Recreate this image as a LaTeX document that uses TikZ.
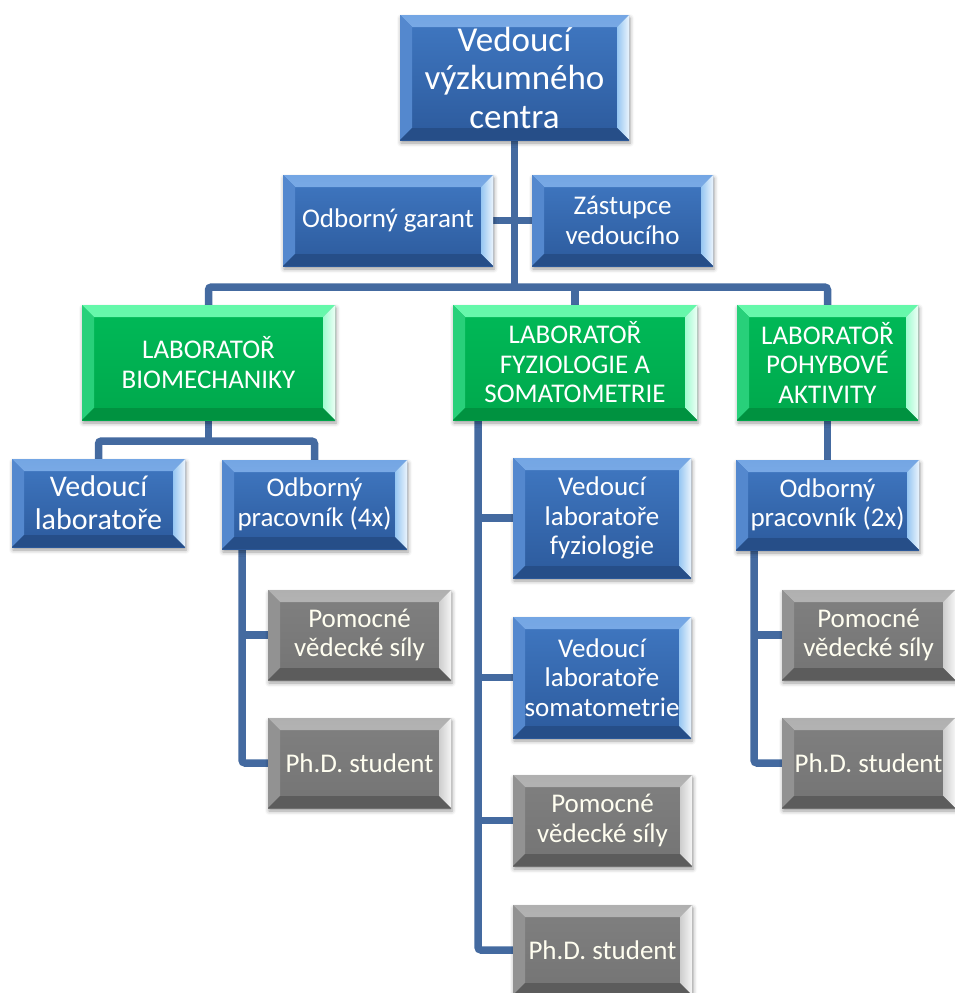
\documentclass[tikz,border=0pt]{standalone}
\usepackage{fontspec}
\setmainfont{Carlito}
\usetikzlibrary{shadows.blur}

\definecolor{linkc}{RGB}{68,106,160}
% blue boxes
\definecolor{bT}{RGB}{64,120,194}
\definecolor{bB}{RGB}{44,90,156}
\definecolor{bbT}{RGB}{116,166,228}
\definecolor{bbL}{RGB}{84,136,206}
\definecolor{bbR}{RGB}{150,198,242}
\definecolor{bbB}{RGB}{38,78,136}
% green boxes
\definecolor{gT}{RGB}{0,186,88}
\definecolor{gB}{RGB}{0,168,76}
\definecolor{gbT}{RGB}{100,248,170}
\definecolor{gbL}{RGB}{40,208,122}
\definecolor{gbR}{RGB}{160,252,208}
\definecolor{gbB}{RGB}{0,146,64}
% grey boxes
\definecolor{sT}{RGB}{128,128,128}
\definecolor{sB}{RGB}{116,116,116}
\definecolor{sbT}{RGB}{176,176,176}
\definecolor{sbL}{RGB}{146,146,146}
\definecolor{sbR}{RGB}{205,205,205}
\definecolor{sbB}{RGB}{92,92,92}

\pgfdeclarelayer{bg}
\pgfsetlayers{bg,main}

\newlength\bvw
\setlength\bvw{12pt}
% bevelled frame: top, left, right, bottom strips
\newcommand\bevels[4]{%
  \shade[top color=#1, bottom color=#1!75!white]
    (path picture bounding box.north west) -- (path picture bounding box.north east)
    -- ([shift={(-\bvw,-\bvw)}]path picture bounding box.north east)
    -- ([shift={(\bvw,-\bvw)}]path picture bounding box.north west) -- cycle;
  \fill[#2] (path picture bounding box.north west) -- ([shift={(\bvw,-\bvw)}]path picture bounding box.north west)
    -- ([shift={(\bvw,\bvw)}]path picture bounding box.south west)
    -- (path picture bounding box.south west) -- cycle;
  \shade[left color=#3, right color=white!80!#3]
    (path picture bounding box.north east) -- ([shift={(-\bvw,-\bvw)}]path picture bounding box.north east)
    -- ([shift={(-\bvw,\bvw)}]path picture bounding box.south east)
    -- (path picture bounding box.south east) -- cycle;
  \fill[#4] (path picture bounding box.south west) -- ([shift={(\bvw,\bvw)}]path picture bounding box.south west)
    -- ([shift={(-\bvw,\bvw)}]path picture bounding box.south east)
    -- (path picture bounding box.south east) -- cycle;
}

\tikzset{
  box/.style={rectangle, inner sep=0pt, align=center, text=white,
    font=\fontsize{27}{29.5}\selectfont,
    blur shadow={shadow xshift=1pt, shadow yshift=-3pt, shadow blur radius=4pt, shadow opacity=40}},
  bluebox/.style={box, top color=bT, bottom color=bB, path picture={\bevels{bbT}{bbL}{bbR}{bbB}}},
  greenbox/.style={box, top color=gT, bottom color=gB, path picture={\bevels{gbT}{gbL}{gbR}{gbB}}},
  greybox/.style={box, top color=sT, bottom color=sB, text=white!94!yellow, path picture={\bevels{sbT}{sbL}{sbR}{sbB}}},
  conn/.style={draw=linkc, line width=7.5pt, rounded corners=3pt},
}

\begin{document}
\begin{tikzpicture}[x=1pt, y=-1pt]
\useasboundingbox (0,0) rectangle (954,993);

% head
\node[bluebox, minimum width=229, minimum height=125, font=\fontsize{35}{38.5}\selectfont]
  (head) at (514.5,77.5) {Vedoucí\\výzkumného\\centra};
\node[bluebox, minimum width=210, minimum height=91] (garant) at (388,220.5) {Odborný garant};
\node[bluebox, minimum width=181, minimum height=91] (zast) at (622.5,220.5) {Zástupce\\vedoucího};

% laboratories
\node[greenbox, minimum width=253, minimum height=115] (labB) at (208.5,362.5) {LABORATOŘ\\BIOMECHANIKY};
\node[greenbox, minimum width=244, minimum height=115] (labF) at (575,362.5) {LABORATOŘ\\FYZIOLOGIE A\\SOMATOMETRIE};
\node[greenbox, minimum width=181, minimum height=115] (labP) at (827.5,362.5) {LABORATOŘ\\POHYBOVÉ\\AKTIVITY};

% biomechanics
\node[bluebox, minimum width=173, minimum height=88, font=\fontsize{30}{33}\selectfont] (vedL) at (98.5,503) {Vedoucí\\laboratoře};
\node[bluebox, minimum width=185, minimum height=89] (odb4) at (314.5,504.5) {Odborný\\pracovník (4x)};
\node[greybox, minimum width=183, minimum height=90] (pomB) at (359.5,635) {Pomocné\\vědecké síly};
\node[greybox, minimum width=183, minimum height=90] (phdB) at (359.5,763) {Ph.D. student};

% physiology and somatometry
\node[bluebox, minimum width=178, minimum height=120] (vedFy) at (602,518) {Vedoucí\\laboratoře\\fyziologie};
\node[bluebox, minimum width=178, minimum height=121] (vedSo) at (602,677.5) {Vedoucí\\laboratoře\\somatometrie};
\node[greybox, minimum width=179, minimum height=91] (pomF) at (602.5,820.5) {Pomocné\\vědecké síly};
\node[greybox, minimum width=179, minimum height=90] (phdF) at (602.5,950) {Ph.D. student};

% physical activity
\node[bluebox, minimum width=183, minimum height=90] (odb2) at (827.5,505) {Odborný\\pracovník (2x)};
\node[greybox, minimum width=173, minimum height=90] (pomP) at (868.5,635) {Pomocné\\vědecké síly};
\node[greybox, minimum width=173, minimum height=90] (phdP) at (868.5,763) {Ph.D. student};

% junction points of the tree
\coordinate (bar) at (514.5,287);
\coordinate (bbar) at (208.5,441);
\coordinate (lineB) at (242,549);
\coordinate (lineF) at (478,420);
\coordinate (lineP) at (754,550);

\begin{pgfonlayer}{bg}
  \draw[conn] (head.south) -- (bar);
  \draw[conn] (garant.east) -- (zast.west);
  \draw[conn] (labB.north) |- (bar) -| (labP.north);
  \draw[conn] (labF.north) -- (labF.north |- bar);

  \draw[conn] (labB.south) -- (bbar);
  \draw[conn] (vedL.north) |- (bbar) -| (odb4.north);
  \draw[conn] (lineB) |- (phdB.west);
  \draw[conn] (lineB |- pomB.west) -- (pomB.west);

  \draw[conn] (lineF) |- (phdF.west);
  \draw[conn] (lineF |- vedFy.west) -- (vedFy.west);
  \draw[conn] (lineF |- vedSo.west) -- (vedSo.west);
  \draw[conn] (lineF |- pomF.west) -- (pomF.west);

  \draw[conn] (labP.south) -- (odb2.north);
  \draw[conn] (lineP) |- (phdP.west);
  \draw[conn] (lineP |- pomP.west) -- (pomP.west);
\end{pgfonlayer}
\end{tikzpicture}
\end{document}
